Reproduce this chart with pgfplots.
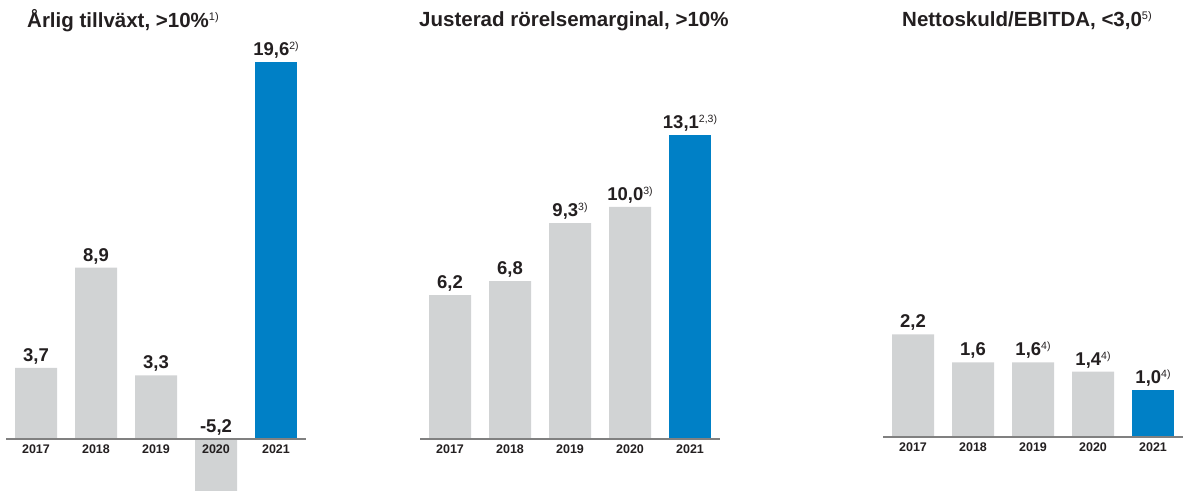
\documentclass[border=0pt]{standalone}
\usepackage{pgfplots}
\pgfplotsset{compat=1.18}
\usepackage{fontspec}
\setmainfont{Liberation Sans}
\definecolor{bargray}{HTML}{D1D3D4}
\definecolor{barblue}{HTML}{0080C6}
\definecolor{txt}{HTML}{231F20}
\definecolor{axgray}{HTML}{808080}
\protected\def\fn#1{\raisebox{6bp}{\fontsize{10.5bp}{11bp}\mdseries\selectfont #1}}
\protected\def\tfn#1{\raisebox{7.5bp}{\fontsize{11bp}{12bp}\mdseries\selectfont #1}}
\pgfplotsset{
  panel/.style={
    x=60bp, xmin=-0.5, xmax=4.5,
    axis x line=middle, axis y line=none,
    axis line style={-, draw=axgray, line width=1.3bp},
    xtick={0,...,4}, xticklabels={2017,2018,2019,2020,2021},
    major tick length=0pt,
    xticklabel style={font=\fontsize{12.5bp}{13bp}\bfseries\selectfont, text=txt, anchor=base, inner sep=0pt, yshift=-14.5bp},
    axis on top,
    anchor=origin,
  },
  vals/.style={draw=none, mark=none, nodes near coords, point meta=explicit symbolic,
    nodes near coords style={font=\fontsize{18.5bp}{19bp}\bfseries\selectfont, text=txt, anchor=base, inner sep=0pt, yshift=6.5bp}},
  gbar/.style={ybar, bar width=42bp, bar shift=0pt, fill=bargray, draw=none},
  bbar/.style={ybar, bar width=42bp, bar shift=0pt, fill=barblue, draw=none},
}
\begin{document}
\begin{tikzpicture}
\useasboundingbox (0,0) rectangle (1184bp,491bp);
% Panel 1
\begin{axis}[panel, at={(36bp,52bp)}, y=19.25bp, ymin=-2.7, ymax=22.8]
\addplot[gbar] coordinates {(0,3.7) (1,8.9) (2,3.3) (3,-5.2)};
\addplot[bbar] coordinates {(4,19.6)};
\addplot[vals] coordinates {(0,3.7) [3,7] (1,8.9) [8,9] (2,3.3) [3,3] (3,0) [-5,2] (4,19.6) [{19,6\fn{2)}}]};
\end{axis}
% Panel 2
\begin{axis}[panel, at={(450bp,52bp)}, y=23.2bp, ymin=-2.2, ymax=18.9]
\addplot[gbar] coordinates {(0,6.2) (1,6.8) (2,9.3) (3,10.0)};
\addplot[bbar] coordinates {(4,13.1)};
\addplot[vals] coordinates {(0,6.2) [6,2] (1,6.8) [6,8] (2,9.3) [{9,3\fn{3)}}] (3,10.0) [{10,0\fn{3)}}] (4,13.1) [{13,1\fn{2,3)}}]};
\end{axis}
% Panel 3
\begin{axis}[panel, at={(913bp,54bp)}, y=46.7bp, ymin=-1.15, ymax=9.35]
\addplot[gbar] coordinates {(0,2.2) (1,1.6) (2,1.6) (3,1.4)};
\addplot[bbar] coordinates {(4,1.0)};
\addplot[vals] coordinates {(0,2.2) [2,2] (1,1.6) [1,6] (2,1.6) [{1,6\fn{4)}}] (3,1.4) [{1,4\fn{4)}}] (4,1.0) [{1,0\fn{4)}}]};
\end{axis}
% Titles
\node[anchor=base west, inner sep=0pt, font=\fontsize{20.5bp}{22bp}\bfseries\selectfont, text=txt] at (27bp,463bp) {Årlig tillväxt, >10\%\tfn{1)}};
\node[anchor=base west, inner sep=0pt, font=\fontsize{20.5bp}{22bp}\bfseries\selectfont, text=txt] at (419bp,464.3bp) {Justerad rörelsemarginal, >10\%};
\node[anchor=base west, inner sep=0pt, font=\fontsize{20.5bp}{22bp}\bfseries\selectfont, text=txt] at (902bp,464bp) {Nettoskuld/EBITDA, <3,0\tfn{5)}};
\end{tikzpicture}
\end{document}
